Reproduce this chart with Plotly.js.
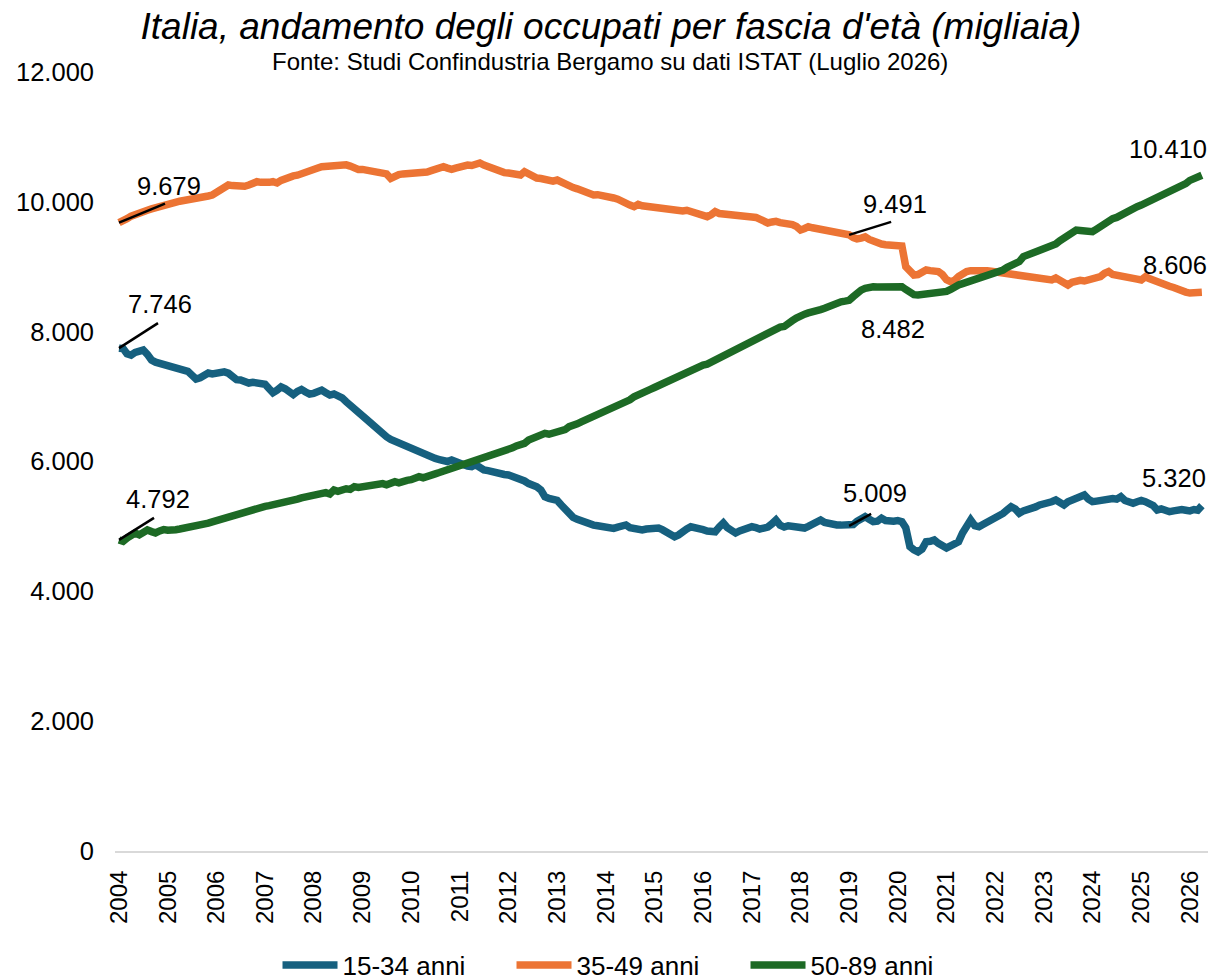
<!DOCTYPE html>
<html>
<head>
<meta charset="utf-8">
<script src="https://cdn.plot.ly/plotly-3.0.1.min.js"></script>
<style>
  html, body { margin: 0; padding: 0; background: #ffffff; }
  #chart { width: 1211px; height: 978px; }
</style>
</head>
<body>
<div id="chart"></div>
<script>
// Monthly series, January 2004 to April 2026 (thousands)
const startYear = 2004;
const seriesNames = ['15-34 anni', '35-49 anni', '50-89 anni'];
const yearTicks = ['2004','2005','2006','2007','2008','2009','2010','2011','2012','2013','2014','2015','2016','2017','2018','2019','2020','2021','2022','2023','2024','2025','2026'];
const yTicks = [0, 2000, 4000, 6000, 8000, 10000, 12000];

const age15_34 = [
  7746, 7740, 7660, 7640, 7680, 7700, 7717, 7650, 7563, 7530, 7510, 7495, // 2004
  7486, 7470, 7450, 7430, 7409, 7390, 7330, 7270, 7290, 7330, 7363, 7350, // 2005
  7370, 7383, 7380, 7360, 7300, 7260, 7255, 7230, 7209, 7220, 7215, 7200, // 2006
  7190, 7120, 7060, 7100, 7150, 7120, 7060, 7030, 7080, 7110, 7070, 7040, // 2007
  7050, 7080, 7100, 7060, 7024, 7040, 7020, 6980, 6920, 6870, 6840, 6790, // 2008
  6720, 6650, 6600, 6540, 6460, 6410, 6380, 6340, 6310, 6285, 6250, 6220, // 2009
  6200, 6180, 6159, 6120, 6090, 6070, 6046, 6030, 6010, 6000, 6023, 5990, // 2010
  5960, 5950, 5930, 5920, 5950, 5890, 5870, 5860, 5840, 5830, 5810, 5800, // 2011
  5792, 5770, 5760, 5745, 5700, 5660, 5638, 5610, 5560, 5458, 5430, 5410, // 2012
  5400, 5330, 5260, 5176, 5140, 5110, 5080, 5052, 5040, 5020, 5010, 5000, // 2013
  4995, 4990, 4970, 4990, 5010, 5022, 4980, 4960, 4950, 4945, 4960, 4970, // 2014
  4960, 4975, 4950, 4920, 4890, 4842, 4870, 4930, 4960, 4995, 4970, 4960, // 2015
  4950, 4930, 4920, 4917, 4990, 5052, 4980, 4950, 4898, 4930, 4960, 4980, // 2016
  4995, 4980, 4960, 4975, 4990, 5040, 5099, 5020, 4990, 5010, 5000, 4990, // 2017
  4990, 4975, 5000, 5040, 5060, 5099, 5060, 5040, 5030, 5022, 5020, 5015, // 2018
  5009, 5030, 5080, 5120, 5150, 5110, 5073, 5080, 5125, 5090, 5070, 5080, // 2019
  5090, 5073, 4980, 4689, 4640, 4608, 4650, 4763, 4770, 4791, 4740, 4700, // 2020
  4668, 4700, 4740, 4763, 4900, 4990, 5099, 5010, 4995, 5030, 5060, 5090, // 2021
  5125, 5150, 5200, 5253, 5304, 5270, 5202, 5240, 5253, 5280, 5300, 5330, // 2022
  5340, 5356, 5380, 5407, 5360, 5330, 5380, 5400, 5420, 5450, 5484, 5420, // 2023
  5381, 5390, 5400, 5420, 5440, 5430, 5420, 5458, 5400, 5370, 5356, 5380, // 2024
  5400, 5380, 5350, 5320, 5253, 5270, 5250, 5227, 5240, 5253, 5260, 5250, // 2025
  5240, 5260, 5250, 5320                                                   // 2026
];

const age35_49 = [
  9679, 9700, 9740, 9780, 9810, 9830, 9850, 9870, 9890, 9910, 9930, 9950, // 2004
  9980, 9990, 10000, 10010, 10020, 10028, 10040, 10050, 10060, 10080, 10090, 10105, // 2005
  10150, 10200, 10240, 10259, 10250, 10240, 10250, 10240, 10259, 10280, 10310, 10300, // 2006
  10290, 10300, 10310, 10290, 10330, 10360, 10387, 10400, 10410, 10437, 10460, 10480, // 2007
  10500, 10520, 10541, 10550, 10560, 10570, 10580, 10582, 10570, 10550, 10520, 10500, // 2008
  10500, 10490, 10480, 10470, 10465, 10464, 10430, 10360, 10400, 10420, 10430, 10435, // 2009
  10420, 10430, 10437, 10450, 10460, 10480, 10500, 10520, 10541, 10520, 10500, 10520, // 2010
  10540, 10555, 10567, 10560, 10580, 10598, 10567, 10540, 10520, 10490, 10464, 10450, // 2011
  10444, 10430, 10420, 10413, 10464, 10420, 10400, 10367, 10360, 10340, 10330, 10320, // 2012
  10336, 10300, 10270, 10233, 10220, 10200, 10180, 10150, 10120, 10105, 10110, 10090, // 2013
  10070, 10060, 10059, 10040, 10000, 9980, 9950, 9925, 9960, 9940, 9930, 9925, // 2014
  9925, 9910, 9900, 9890, 9900, 9880, 9874, 9860, 9870, 9850, 9840, 9820, // 2015
  9800, 9771, 9800, 9848, 9820, 9810, 9800, 9790, 9780, 9775, 9770, 9771, // 2016
  9766, 9760, 9740, 9720, 9674, 9690, 9700, 9680, 9674, 9674, 9650, 9620, // 2017
  9566, 9590, 9617, 9600, 9590, 9580, 9560, 9550, 9540, 9530, 9510, 9500, // 2018
  9491, 9450, 9430, 9442, 9460, 9420, 9390, 9366, 9350, 9340, 9330, 9340, // 2019
  9335, 9320, 9000, 8950, 8873, 8880, 8920, 8950, 8940, 8930, 8925, 8880, // 2020
  8800, 8770, 8790, 8850, 8900, 8925, 8940, 8945, 8950, 8950, 8940, 8930, // 2021
  8920, 8910, 8900, 8896, 8890, 8880, 8870, 8860, 8850, 8840, 8820, 8830, // 2022
  8820, 8800, 8796, 8826, 8800, 8760, 8719, 8760, 8780, 8790, 8780, 8796, // 2023
  8800, 8820, 8850, 8900, 8925, 8880, 8873, 8860, 8850, 8846, 8830, 8810, // 2024
  8796, 8846, 8820, 8790, 8760, 8740, 8719, 8700, 8680, 8650, 8630, 8610, // 2025
  8595, 8590, 8600, 8606                                                   // 2026
];

const age50_89 = [
  4792, 4770, 4820, 4860, 4898, 4870, 4900, 4945, 4920, 4900, 4930, 4950, // 2004
  4940, 4930, 4950, 4960, 4970, 4975, 4980, 5000, 5010, 5030, 5050, 5070, // 2005
  5090, 5110, 5130, 5155, 5160, 5180, 5200, 5210, 5230, 5250, 5270, 5290, // 2006
  5309, 5320, 5330, 5350, 5370, 5380, 5390, 5410, 5420, 5440, 5450, 5460, // 2007
  5470, 5480, 5484, 5520, 5500, 5560, 5540, 5570, 5580, 5570, 5612, 5600, // 2008
  5610, 5620, 5640, 5630, 5650, 5660, 5640, 5680, 5689, 5670, 5700, 5710, // 2009
  5720, 5740, 5766, 5750, 5780, 5790, 5810, 5830, 5850, 5870, 5900, 5920, // 2010
  5930, 5950, 5970, 5997, 6010, 6030, 6050, 6070, 6090, 6110, 6130, 6151, // 2011
  6180, 6210, 6240, 6254, 6280, 6331, 6350, 6370, 6400, 6434, 6420, 6438, // 2012
  6450, 6470, 6490, 6536, 6550, 6580, 6610, 6640, 6670, 6700, 6720, 6740, // 2013
  6767, 6790, 6820, 6850, 6880, 6910, 6950, 6998, 7020, 7050, 7080, 7110, // 2014
  7140, 7170, 7200, 7229, 7260, 7300, 7330, 7350, 7380, 7400, 7430, 7460, // 2015
  7486, 7500, 7530, 7560, 7610, 7630, 7660, 7690, 7720, 7750, 7780, 7810, // 2016
  7840, 7870, 7917, 7940, 7960, 7990, 8020, 8071, 8080, 8110, 8170, 8210, // 2017
  8250, 8270, 8290, 8300, 8320, 8340, 8360, 8390, 8430, 8440, 8460, 8470, // 2018
  8482, 8540, 8600, 8640, 8667, 8690, 8690, 8688, 8685, 8700, 8695, 8690, // 2019
  8700, 8693, 8650, 8590, 8570, 8564, 8570, 8580, 8590, 8600, 8610, 8615, // 2020
  8620, 8650, 8690, 8719, 8740, 8760, 8790, 8810, 8820, 8860, 8880, 8890, // 2021
  8896, 8920, 8950, 8990, 9020, 9050, 9080, 9156, 9180, 9200, 9230, 9260, // 2022
  9280, 9300, 9307, 9350, 9400, 9440, 9480, 9520, 9566, 9560, 9550, 9560, // 2023
  9540, 9580, 9620, 9680, 9720, 9740, 9760, 9800, 9840, 9870, 9900, 9925, // 2024
  9950, 9980, 10000, 10028, 10060, 10090, 10135, 10150, 10180, 10220, 10259, 10280, // 2025
  10330, 10360, 10385, 10410                                               // 2026
];

const colors = ['#16607f', '#ec7434', '#1d6a25'];

// month dates (positions), built from the series length
function monthDate(i) {
  const y = startYear + Math.floor(i / 12);
  const m = (i % 12) + 1;
  return y + '-' + (m < 10 ? '0' + m : m) + '-01';
}
const dates = age15_34.map((_, i) => monthDate(i));
const tickDates = yearTicks.map(y => y + '-01-01');

function fmt(v) {
  return String(v).replace(/\B(?=(\d{3})+(?!\d))/g, '.');
}

const FONT = 'Liberation Sans, Arial, sans-serif';
const allSeries = [age15_34, age35_49, age50_89];

const traces = allSeries.map((s, k) => ({
  type: 'scatter',
  mode: 'lines',
  x: dates,
  y: s,
  name: seriesNames[k],
  line: { color: colors[k], width: 7.5, shape: 'linear' },
  hoverinfo: 'skip'
}));

// label positions: [series index, point index, xshift, yshift, leader dx, leader dy]
const iStart = 0;
const iMid = 180; // gennaio 2019
const iEnd = age15_34.length - 1;
const labelSpecs = [
  [1, iStart, 50, 37, 46, 19],
  [0, iStart, 41, 44, 39, 25],
  [2, iStart, 39, 41, 35, 22],
  [1, iMid, 46, 31, 42, 13],
  [0, iMid, 26, 33, 22, 12],
  [2, iMid, 44, -29, 0, 0],
  [2, iEnd, -34, 26, 0, 0],
  [1, iEnd, -27, 27, 0, 0],
  [0, iEnd, -28, 28, 0, 0]
];

const annotations = labelSpecs.map(sp => ({
  xref: 'x', yref: 'y',
  x: dates[sp[1]],
  y: allSeries[sp[0]][sp[1]],
  text: fmt(allSeries[sp[0]][sp[1]]),
  showarrow: false,
  xshift: sp[2], yshift: sp[3],
  xanchor: 'center', yanchor: 'middle',
  font: { family: FONT, size: 25.5, color: '#000000' }
}));

annotations.push({
  xref: 'paper', yref: 'paper',
  x: 0.4533, y: 1.0141,
  xanchor: 'center', yanchor: 'middle',
  text: 'Fonte: Studi Confindustria Bergamo su dati ISTAT (Luglio 2026)',
  showarrow: false,
  font: { family: FONT, size: 24, color: '#000000' }
});

const shapes = labelSpecs.filter(sp => sp[4] !== 0).map(sp => ({
  type: 'line',
  xref: 'x', yref: 'y',
  xsizemode: 'pixel', ysizemode: 'pixel',
  xanchor: dates[sp[1]],
  yanchor: allSeries[sp[0]][sp[1]],
  x0: 0, y0: 0, x1: sp[4], y1: sp[5],
  line: { color: '#000000', width: 2.5 },
  layer: 'above'
}));

const layout = {
  width: 1211,
  height: 978,
  paper_bgcolor: '#ffffff',
  plot_bgcolor: '#ffffff',
  separators: ',.',
  margin: { l: 115, r: 3, t: 72, b: 127, pad: 0 },
  title: {
    text: "Italia, andamento degli occupati per fascia d'età (migliaia)",
    font: { family: FONT, size: 37, color: '#000000', style: 'italic' },
    xref: 'container', yref: 'container',
    x: 0.5045, y: 1 - 26 / 978,
    xanchor: 'center', yanchor: 'middle'
  },
  xaxis: {
    type: 'date',
    range: ['2003-12-02', '2026-05-17'],
    tickmode: 'array',
    tickvals: tickDates,
    ticktext: yearTicks,
    tickangle: -90,
    ticks: '',
    ticklabelstandoff: 8,
    showgrid: false,
    zeroline: false,
    showline: true,
    linecolor: '#d9d9d9',
    linewidth: 2,
    tickfont: { family: FONT, size: 24, color: '#000000' },
    fixedrange: true
  },
  yaxis: {
    range: [0, 12000],
    tickmode: 'array',
    tickvals: yTicks,
    ticktext: yTicks.map(fmt),
    ticks: '',
    ticklabelstandoff: 20,
    showgrid: false,
    zeroline: false,
    showline: false,
    tickfont: { family: FONT, size: 25.5, color: '#000000' },
    fixedrange: true
  },
  showlegend: true,
  legend: {
    orientation: 'h',
    xref: 'container', yref: 'container',
    x: 0.519, y: 1 - 965 / 978,
    xanchor: 'center', yanchor: 'middle',
    itemwidth: 55,
    entrywidth: 164,
    entrywidthmode: 'pixels',
    font: { family: FONT, size: 26, color: '#000000' },
    bgcolor: 'rgba(0,0,0,0)'
  },
  annotations: annotations,
  shapes: shapes,
  hovermode: false
};

Plotly.newPlot('chart', traces, layout, { staticPlot: true, displayModeBar: false });
</script>
</body>
</html>
